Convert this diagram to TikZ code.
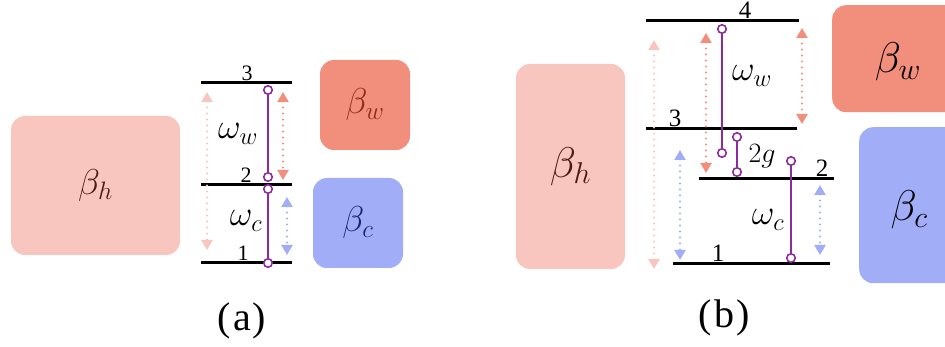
\RequirePackage{fix-cm}
\documentclass[tikz,border=0pt]{standalone}
\usepackage{fontspec}
\setmainfont{Liberation Serif}
\usetikzlibrary{arrows.meta}
\definecolor{pinkL}{HTML}{F8C6BE}
\definecolor{salm}{HTML}{F28E7C}
\definecolor{bluL}{HTML}{A2ADF8}
\definecolor{purp}{HTML}{8C2C9C}
\definecolor{brownD}{HTML}{4E1A10}
\definecolor{redD}{HTML}{8A2C1C}
\definecolor{navyD}{HTML}{1C2470}
\tikzset{
  bath/.style={rounded corners=14pt, inner sep=0pt, draw=none},
  lvl/.style={line width=3pt, black},
  dot/.style={circle, draw=purp, fill=white, line width=1.6pt, inner sep=0pt, minimum size=8.5pt},
  trans/.style={purp, line width=2pt},
  darr/.style={line width=2.2pt, line cap=round, dash pattern=on 0pt off 6pt,
     {Triangle[width=11pt,length=10pt]}-{Triangle[width=11pt,length=10pt]}},
  numa/.style={inner sep=0pt, anchor=south, font=\fontsize{22}{24}\selectfont},
  numb/.style={inner sep=0pt, anchor=south, font=\fontsize{25}{28}\selectfont},
  lab/.style={inner sep=0pt, font=\fontsize{35}{40}\selectfont},
  betaa/.style={inner sep=0pt, font=\fontsize{36}{40}\selectfont},
  betab/.style={inner sep=0pt, font=\fontsize{43}{46}\selectfont},
  captext/.style={inner sep=0pt, font=\fontsize{40}{44}\selectfont},
}
\begin{document}
\begin{tikzpicture}[x=1pt,y=-1pt]
\useasboundingbox (0,0) rectangle (945,347);
% ---------------- panel (a) ----------------
\node[bath, fill=pinkL, minimum width=169pt, minimum height=139pt] (bha) at (95.5,185.5) {};
\node[betaa, text=brownD] (bhat) at (bha) {$\beta_h$};
\node[bath, fill=salm, minimum width=90pt, minimum height=90pt] (bwa) at (365,105) {};
\node[betaa, text=redD] (bwat) at (bwa) {$\beta_w$};
\node[bath, fill=bluL, minimum width=90pt, minimum height=90pt] (bca) at (358,223) {};
\node[betaa, text=navyD] (bcat) at (bca) {$\beta_c$};
% levels
\coordinate (a3l) at (201,83);  \coordinate (a3r) at (292,83);
\coordinate (a2l) at (201,185); \coordinate (a2r) at (292,185);
\coordinate (a1l) at (201,263); \coordinate (a1r) at (292,263);
\draw[lvl] (a3l) -- (a3r);
\draw[lvl] (a2l) -- (a2r);
\draw[lvl] (a1l) -- (a1r);
\node[numa] (n3a) at (247,80.5) {3};
\node[numa] (n2a) at (246,182.5) {2};
\node[numa] (n1a) at (243,260.5) {1};
% dotted arrows
\coordinate (pa1) at (207,92);  \coordinate (pa2) at (207,250);
\coordinate (sa1) at (283,92);  \coordinate (sa2) at (283,180);
\coordinate (ca1) at (287,197); \coordinate (ca2) at (287,255);
\draw[darr, pinkL] (pa1) -- (pa2);
\draw[darr, salm] (sa1) -- (sa2);
\draw[darr, bluL] (ca1) -- (ca2);
% transitions
\node[dot] (da1) at (268,90) {};
\node[dot] (da2) at (268,177) {};
\node[dot] (da3) at (268,189) {};
\node[dot] (da4) at (268,263) {};
\draw[trans] (da1) -- (da2);
\draw[trans] (da3) -- (da4);
\node[lab] (wwa) at (238,134) {$\omega_w$};
\node[lab] (wca) at (246,221) {$\omega_c$};
\node[captext] (capa) at (242,321) {(\kern2pt a\kern2pt)};
% ---------------- panel (b) ----------------
\node[bath, fill=pinkL, minimum width=109pt, minimum height=205pt] (bhb) at (570.5,166.5) {};
\node[betab, text=brownD] (bhbt) at (bhb) {$\beta_h$};
\node[bath, fill=salm, minimum width=130pt, minimum height=107pt, anchor=north west] (bwb) at (832,5) {};
\node[betab, text=black] (bwbt) at (898,62) {$\beta_w$};
\node[bath, fill=bluL, minimum width=110pt, minimum height=156pt, anchor=north west] (bcb) at (859,127) {};
\node[betab, text=black] (bcbt) at (909,210) {$\beta_c$};
% levels
\coordinate (b4l) at (646,21);  \coordinate (b4r) at (799,21);
\coordinate (b3l) at (646,129); \coordinate (b3r) at (797,129);
\coordinate (b2l) at (699,179); \coordinate (b2r) at (834,179);
\coordinate (b1l) at (673,264); \coordinate (b1r) at (830,264);
\draw[lvl] (b4l) -- (b4r);
\draw[lvl] (b3l) -- (b3r);
\draw[lvl] (b2l) -- (b2r);
\draw[lvl] (b1l) -- (b1r);
\node[numb] (n4b) at (745,18.5) {4};
\node[numb] (n3b) at (675,126.5) {3};
\node[numb] (n2b) at (822,176.5) {2};
\node[numb] (n1b) at (718,261.5) {1};
% dotted arrows
\coordinate (pb1) at (654,40);  \coordinate (pb2) at (654,269);
\coordinate (sb1) at (706,33);  \coordinate (sb2) at (706,173);
\coordinate (sb3) at (802,28);  \coordinate (sb4) at (802,124);
\coordinate (cb1) at (680,150); \coordinate (cb2) at (680,260);
\coordinate (cb3) at (820,185); \coordinate (cb4) at (820,255);
\draw[darr, pinkL] (pb1) -- (pb2);
\draw[darr, salm] (sb1) -- (sb2);
\draw[darr, salm] (sb3) -- (sb4);
\draw[darr, bluL] (cb1) -- (cb2);
\draw[darr, bluL] (cb3) -- (cb4);
% transitions
\node[dot] (db1) at (722,29) {};
\node[dot] (db2) at (722,153) {};
\node[dot] (db3) at (737,137) {};
\node[dot] (db4) at (737,172) {};
\node[dot] (db5) at (791,161) {};
\node[dot] (db6) at (791,258) {};
\draw[trans] (db1) -- (db2);
\draw[trans] (db3) -- (db4);
\draw[trans] (db5) -- (db6);
\node[lab] (wwb) at (752,76) {$\omega_w$};
\node[lab] (wcb) at (768,220) {$\omega_c$};
\node[inner sep=0pt, font=\fontsize{28}{30}\selectfont] (g2b) at (762,156) {$2g$};
\node[captext] (capb) at (724,318) {(\kern2pt b\kern2pt)};
\end{tikzpicture}
\end{document}
